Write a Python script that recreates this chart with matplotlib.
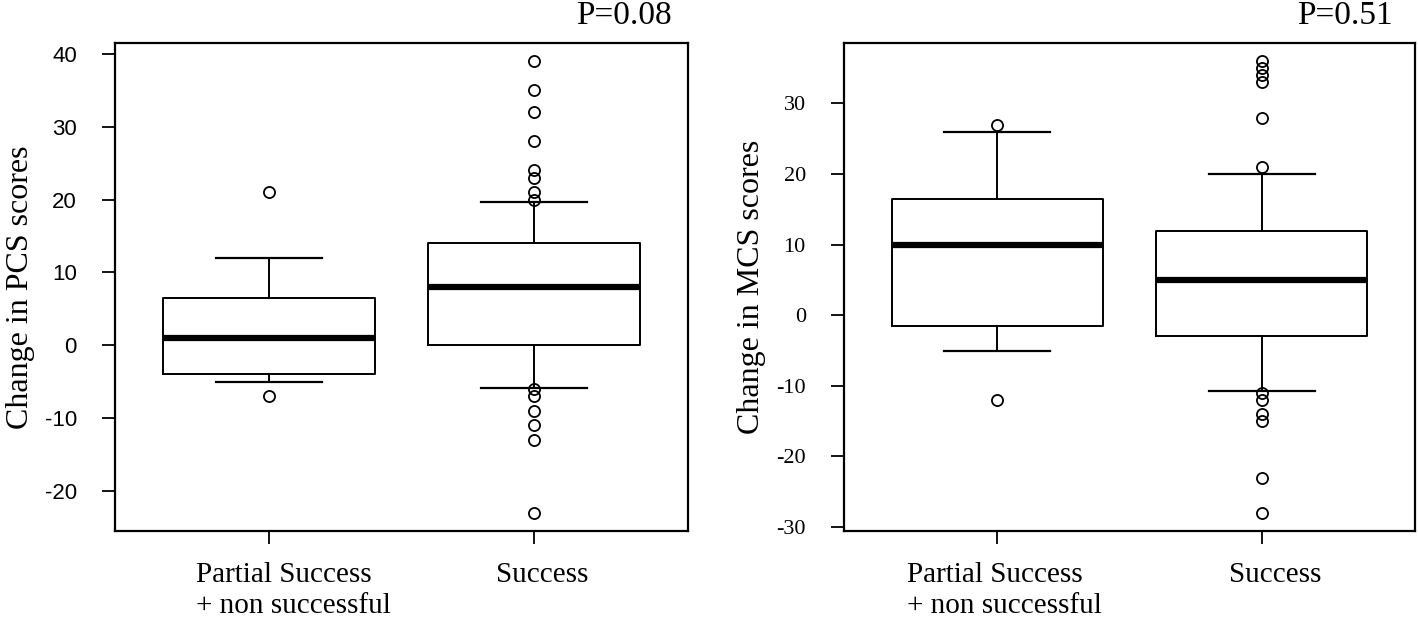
import matplotlib
matplotlib.use("Agg")
import matplotlib.pyplot as plt
import matplotlib.transforms as mtransforms

# ---- data ----
GROUPS = ["Partial Success\n+ non successful", "Success"]

pcs_q1 = [-4, 0]
pcs_med = [1, 8]
pcs_q3 = [6.5, 14]
pcs_whislo = [-5, -5.8]
pcs_whishi = [12, 19.7]
pcs_fliers = [[21, -7],
              [39, 35, 32, 28, 24, 23, 21, 20, -6, -7, -9, -11, -13, -23]]
pcs_yticks = [-20, -10, 0, 10, 20, 30, 40]

mcs_q1 = [-1.5, -3]
mcs_med = [10, 5]
mcs_q3 = [16.5, 12]
mcs_whislo = [-5, -10.7]
mcs_whishi = [26, 20]
mcs_fliers = [[27, -12],
              [36, 35, 34, 33, 28, 21, -11, -12, -14, -15, -23, -28]]
mcs_yticks = [-30, -20, -10, 0, 10, 20, 30]

SERIF = "Liberation Serif"
SANS = "Liberation Sans"


def make_stats(q1, med, q3, lo, hi, fliers):
    return [{"q1": a, "med": m, "q3": b, "whislo": l, "whishi": h,
             "fliers": f} for a, m, b, l, h, f in zip(q1, med, q3, lo, hi, fliers)]


def draw_panel(ax, stats, yticks, ylabel, ptext, tickfont, label_shift, p_shift):
    ax.bxp(stats, positions=[1, 2], widths=0.8, capwidths=0.4,
           boxprops=dict(color="black", linewidth=1.4),
           medianprops=dict(color="black", linewidth=4.5, solid_capstyle="butt"),
           whiskerprops=dict(color="black", linewidth=1.4),
           capprops=dict(color="black", linewidth=1.6),
           flierprops=dict(marker="o", markerfacecolor="none",
                           markeredgecolor="black", markersize=8,
                           markeredgewidth=1.3))
    # R-style 4% padding around the data range
    lo = min(min(s["fliers"] + [s["whislo"]]) for s in stats)
    hi = max(max(s["fliers"] + [s["whishi"]]) for s in stats)
    pad = 0.04 * (hi - lo)
    ax.set_ylim(lo - pad, hi + pad)
    ax.set_xlim(0.42, 2.58)

    ax.set_yticks(yticks)
    ax.set_yticklabels([str(t) for t in yticks], family=tickfont, fontsize=16)
    ax.set_xticks([1, 2])
    ax.set_xticklabels(GROUPS, family=SERIF, fontsize=21,
                       multialignment="left", linespacing=1.25)
    ax.tick_params(axis="both", direction="out", length=9.5, width=1.3,
                   color="black")
    ax.tick_params(axis="y", pad=18)
    ax.tick_params(axis="x", pad=13)
    for lab, dx in zip(ax.get_xticklabels(), label_shift):
        off = mtransforms.ScaledTranslation(dx / 72, 0, ax.figure.dpi_scale_trans)
        lab.set_transform(lab.get_transform() + off)

    for sp in ax.spines.values():
        sp.set_linewidth(1.6)
    ax.set_ylabel(ylabel, family=SERIF, fontsize=23, labelpad=7)

    # P-value sits a little left of the box corner, above the frame
    off = mtransforms.ScaledTranslation(p_shift / 72, 13.7 / 72,
                                        ax.figure.dpi_scale_trans)
    ax.text(1.0, 1.0, ptext, transform=ax.transAxes + off, ha="right",
            va="baseline", family=SERIF, fontsize=24)
    return ax


fig = plt.figure(figsize=(14.18, 6.24), dpi=100)
W, H = 1418, 624
ax1 = fig.add_axes([115 / W, 1 - 531 / H, 573 / W, 488 / H])
ax2 = fig.add_axes([844 / W, 1 - 531 / H, 571 / W, 488 / H])

draw_panel(ax1, make_stats(pcs_q1, pcs_med, pcs_q3, pcs_whislo, pcs_whishi, pcs_fliers),
           pcs_yticks, "Change in PCS scores", "P=0.08", SANS, [18, 6], -12)
draw_panel(ax2, make_stats(mcs_q1, mcs_med, mcs_q3, mcs_whislo, mcs_whishi, mcs_fliers),
           mcs_yticks, "Change in MCS scores", "P=0.51", SERIF, [5, 10], -16)

fig.savefig("out.png", dpi=100, facecolor="white")
